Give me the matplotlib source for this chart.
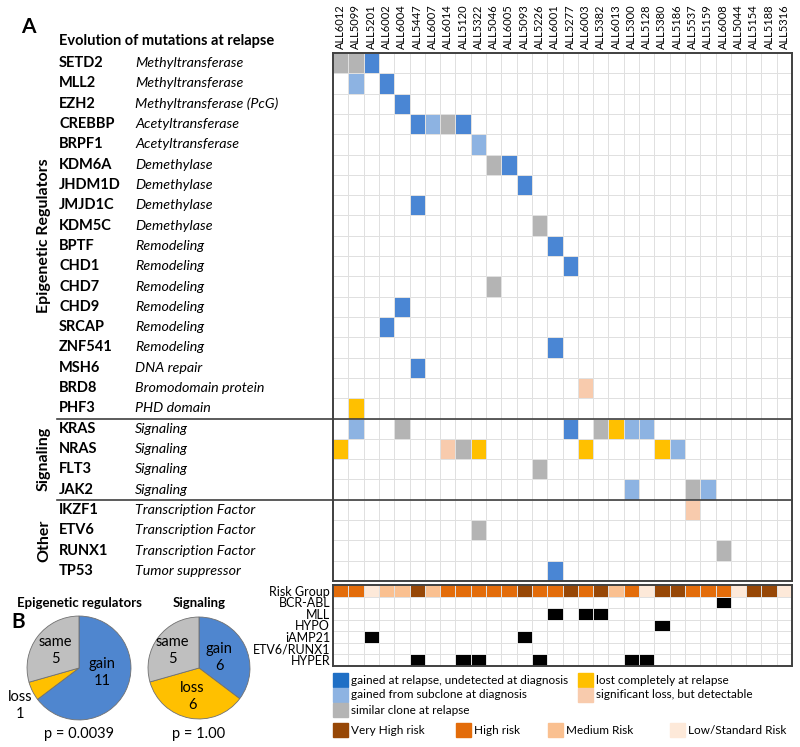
import numpy as np
import matplotlib
matplotlib.use('Agg')
import matplotlib.pyplot as plt
from matplotlib.colors import ListedColormap
from matplotlib.patches import Rectangle
from matplotlib.lines import Line2D
from matplotlib import transforms

plt.rcParams['font.family'] = ['Lato', 'DejaVu Sans']

# ---- data ----
patients = ['ALL6012', 'ALL5099', 'ALL5201', 'ALL6002', 'ALL6004', 'ALL5447', 'ALL6007',
            'ALL6014', 'ALL5120', 'ALL5322', 'ALL5046', 'ALL6005', 'ALL5093', 'ALL5226',
            'ALL6001', 'ALL5277', 'ALL6003', 'ALL5382', 'ALL6013', 'ALL5300', 'ALL5128',
            'ALL5380', 'ALL5186', 'ALL5537', 'ALL5159', 'ALL6008', 'ALL5044', 'ALL5154',
            'ALL5188', 'ALL5316']

genes = ['SETD2', 'MLL2', 'EZH2', 'CREBBP', 'BRPF1', 'KDM6A', 'JHDM1D', 'JMJD1C', 'KDM5C',
         'BPTF', 'CHD1', 'CHD7', 'CHD9', 'SRCAP', 'ZNF541', 'MSH6', 'BRD8', 'PHF3',
         'KRAS', 'NRAS', 'FLT3', 'JAK2',
         'IKZF1', 'ETV6', 'RUNX1', 'TP53']
functions = ['Methyltransferase', 'Methyltransferase', 'Methyltransferase (PcG)',
             'Acetyltransferase', 'Acetyltransferase', 'Demethylase', 'Demethylase',
             'Demethylase', 'Demethylase', 'Remodeling', 'Remodeling', 'Remodeling',
             'Remodeling', 'Remodeling', 'Remodeling', 'DNA repair', 'Bromodomain protein',
             'PHD domain', 'Signaling', 'Signaling', 'Signaling', 'Signaling',
             'Transcription Factor', 'Transcription Factor', 'Transcription Factor',
             'Tumor suppressor']
group_names = ['Epigenetic Regulators', 'Signaling', 'Other']
group_sizes = [18, 4, 4]

# (gene, patient, status)
mutations = [
    ('SETD2', 'ALL6012', 'similar'), ('SETD2', 'ALL5099', 'similar'), ('SETD2', 'ALL5201', 'gained'),
    ('MLL2', 'ALL5099', 'subclone'), ('MLL2', 'ALL6002', 'gained'),
    ('EZH2', 'ALL6004', 'gained'),
    ('CREBBP', 'ALL5447', 'gained'), ('CREBBP', 'ALL6007', 'subclone'),
    ('CREBBP', 'ALL6014', 'similar'), ('CREBBP', 'ALL5120', 'gained'),
    ('BRPF1', 'ALL5322', 'subclone'),
    ('KDM6A', 'ALL5046', 'similar'), ('KDM6A', 'ALL6005', 'gained'),
    ('JHDM1D', 'ALL5093', 'gained'),
    ('JMJD1C', 'ALL5447', 'gained'),
    ('KDM5C', 'ALL5226', 'similar'),
    ('BPTF', 'ALL6001', 'gained'),
    ('CHD1', 'ALL5277', 'gained'),
    ('CHD7', 'ALL5046', 'similar'),
    ('CHD9', 'ALL6004', 'gained'),
    ('SRCAP', 'ALL6002', 'gained'),
    ('ZNF541', 'ALL6001', 'gained'),
    ('MSH6', 'ALL5447', 'gained'),
    ('BRD8', 'ALL6003', 'sigloss'),
    ('PHF3', 'ALL5099', 'lost'),
    ('KRAS', 'ALL5099', 'subclone'), ('KRAS', 'ALL6004', 'similar'), ('KRAS', 'ALL5277', 'gained'),
    ('KRAS', 'ALL5382', 'similar'), ('KRAS', 'ALL6013', 'lost'), ('KRAS', 'ALL5300', 'subclone'),
    ('KRAS', 'ALL5128', 'subclone'),
    ('NRAS', 'ALL6012', 'lost'), ('NRAS', 'ALL6014', 'sigloss'), ('NRAS', 'ALL5120', 'similar'),
    ('NRAS', 'ALL5322', 'lost'), ('NRAS', 'ALL6003', 'lost'), ('NRAS', 'ALL5380', 'lost'),
    ('NRAS', 'ALL5186', 'subclone'),
    ('FLT3', 'ALL5226', 'similar'),
    ('JAK2', 'ALL5300', 'subclone'), ('JAK2', 'ALL5537', 'similar'), ('JAK2', 'ALL5159', 'subclone'),
    ('IKZF1', 'ALL5537', 'sigloss'),
    ('ETV6', 'ALL5322', 'similar'),
    ('RUNX1', 'ALL6008', 'similar'),
    ('TP53', 'ALL6001', 'gained'),
]

status_order = ['gained', 'subclone', 'similar', 'lost', 'sigloss']
status_labels = ['gained at relapse, undetected at diagnosis', 'gained from subclone at diagnosis',
                 'similar clone at relapse', 'lost completely at relapse',
                 'significant loss, but detectable']
status_colors = ['#4a86d4', '#8db3e2', '#b4b4b4', '#ffc000', '#f8cbad']
legend_colors = ['#1f6fc5', '#8db3e2', '#b4b4b4', '#ffc000', '#f8cbad']

risk_group = ['High', 'High', 'Low', 'Medium', 'Medium', 'Very High', 'Medium', 'High', 'High',
              'High', 'High', 'High', 'Very High', 'High', 'High', 'Very High', 'High', 'Very High',
              'Medium', 'High', 'Low', 'Very High', 'Very High', 'High', 'High', 'High', 'Low',
              'Very High', 'Very High', 'Low']
risk_order = ['Very High', 'High', 'Medium', 'Low']
risk_labels = ['Very High risk', 'High risk', 'Medium Risk', 'Low/Standard Risk']
risk_colors = ['#974706', '#e36c0a', '#fac090', '#fde9d9']

bcr_abl = ['ALL6008']
mll = ['ALL6001', 'ALL6003', 'ALL5382']
hypo = ['ALL5380']
iamp21 = ['ALL5201', 'ALL5093']
etv6_runx1 = []
hyper = ['ALL5447', 'ALL5120', 'ALL5322', 'ALL5226', 'ALL5300', 'ALL5128']
karyotype_names = ['BCR-ABL', 'MLL', 'HYPO', 'iAMP21', 'ETV6/RUNX1', 'HYPER']
karyotype_lists = [bcr_abl, mll, hypo, iamp21, etv6_runx1, hyper]

pie_labels = ['gain', 'loss', 'same']
pie_colors = ['#4f86cf', '#ffc000', '#bfbfbf']
pie_epigenetic = [11, 1, 5]
pie_signaling = [6, 6, 5]
p_values = ['p = 0.0039', 'p = 1.00']

# ---- layout helpers (pixel coords, origin top-left) ----
W, H = 800, 747
def box(x0, y0, x1, y1):
    return [x0 / W, 1 - y1 / H, (x1 - x0) / W, (y1 - y0) / H]

fig = plt.figure(figsize=(W / 100, H / 100), dpi=100)
grid_col = '#e0e0e0'
frame_col = '#404040'

def cell_grid(axis, data, cmap):
    nr, nc = data.shape
    axis.pcolormesh(np.arange(nc + 1) - 0.5, np.arange(nr + 1) - 0.5, data, cmap=cmap,
                    vmin=-0.5, vmax=cmap.N - 0.5, edgecolors=grid_col, linewidth=0.7)
    axis.set_xlim(-0.5, nc - 0.5)
    axis.set_ylim(nr - 0.5, -0.5)
    for sp in axis.spines.values():
        sp.set_color(frame_col)
        sp.set_linewidth(1.4)
        sp.set_zorder(5)

# ---- mutation heatmap ----
mat = np.zeros((len(genes), len(patients)))
for g, p, s in mutations:
    mat[genes.index(g), patients.index(p)] = status_order.index(s) + 1

ax = fig.add_axes(box(333, 53, 792, 581))
cell_grid(ax, mat, ListedColormap(['white'] + status_colors))
ax.set_xticks(range(len(patients)))
ax.set_xticklabels(patients, rotation=90, fontsize=8)
ax.xaxis.tick_top()
ax.set_yticks([])
ax.tick_params(length=0, pad=3)

trans = transforms.blended_transform_factory(fig.transFigure, ax.transData)
for i, (g, f) in enumerate(zip(genes, functions)):
    fig.text(59 / W, i, g, transform=trans, fontsize=10.5, fontweight='bold', va='center')
    fig.text(135 / W, i, f, transform=trans, fontsize=10.3, style='italic', va='center')

start = 0
for name, n in zip(group_names, group_sizes):
    fig.text(44 / W, start + (n - 1) / 2, name, transform=trans, fontsize=11.5,
             fontweight='bold', rotation=90, ha='center', va='center')
    if start > 0:
        fig.add_artist(Line2D([57 / W, 792 / W], [start - 0.5, start - 0.5], transform=trans,
                              color=frame_col, lw=1.2))
    start += n

fig.text(59 / W, 1 - 41 / H, 'Evolution of mutations at relapse', fontsize=10.5,
         fontweight='bold', va='center')
fig.text(28 / W, 1 - 27 / H, 'A', fontsize=15, fontweight='bold', ha='center', va='center')

# ---- risk group / karyotype panel ----
bottom = np.zeros((1 + len(karyotype_names), len(patients)))
for j, r in enumerate(risk_group):
    bottom[0, j] = risk_order.index(r) + 1
for k, lst in enumerate(karyotype_lists):
    for p in lst:
        bottom[k + 1, patients.index(p)] = 5

ax2 = fig.add_axes(box(333, 585, 792, 666))
cell_grid(ax2, bottom, ListedColormap(['white'] + risk_colors + ['black']))
ax2.set_xticks([])
ax2.set_yticks(range(bottom.shape[0]))
ax2.set_yticklabels(['Risk Group'] + karyotype_names, fontsize=9)
ax2.tick_params(length=0, pad=2)

# ---- legends ----
def legend_item(x, y, color, label):
    fig.add_artist(Rectangle((x / W, 1 - (y + 14) / H), 15 / W, 14 / H, color=color,
                             transform=fig.transFigure))
    fig.text((x + 18) / W, 1 - (y + 7) / H, label, fontsize=8.5, va='center')

leg_pos = [(333, 673), (333, 688), (333, 703), (578, 673), (578, 688)]
for (x, y), c, lab in zip(leg_pos, legend_colors, status_labels):
    legend_item(x, y, c, lab)
for x, c, lab in zip([333, 456, 548, 670], risk_colors, risk_labels):
    legend_item(x, 723, c, lab)

# ---- pies ----
fig.text(18 / W, 1 - 622 / H, 'B', fontsize=15, fontweight='bold', ha='center', va='center')
pie_specs = [
    ('Epigenetic regulators', pie_epigenetic, (79, 668), 53,
     [(0.45, -0.09), (-1.13, -0.72), (-0.45, 0.34)]),
    ('Signaling', pie_signaling, (199, 668), 52,
     [(0.40, 0.21), (-0.13, -0.56), (-0.52, 0.35)]),
]
for (title, vals, (cx, cy), r, pos), pv in zip(pie_specs, p_values):
    pax = fig.add_axes(box(cx - r, cy - r, cx + r, cy + r))
    pax.pie(vals, colors=pie_colors, startangle=90, counterclock=False, radius=1,
            wedgeprops=dict(edgecolor='#707070', linewidth=0.6))
    pax.set_xlim(-1.02, 1.02)
    pax.set_ylim(-1.02, 1.02)
    pax.set_aspect('equal')
    for lab, v, (tx, ty) in zip(pie_labels, vals, pos):
        pax.text(tx, ty, f'{lab}\n{v}', ha='center', va='center', fontsize=10.5,
                 linespacing=1.25, clip_on=False)
    fig.text(cx / W, 1 - 603 / H, title, fontsize=9.5, fontweight='bold', ha='center',
             va='center')
    fig.text(cx / W, 1 - 734 / H, pv, fontsize=10.5, ha='center', va='center')

fig.savefig('out.png', dpi=100)
